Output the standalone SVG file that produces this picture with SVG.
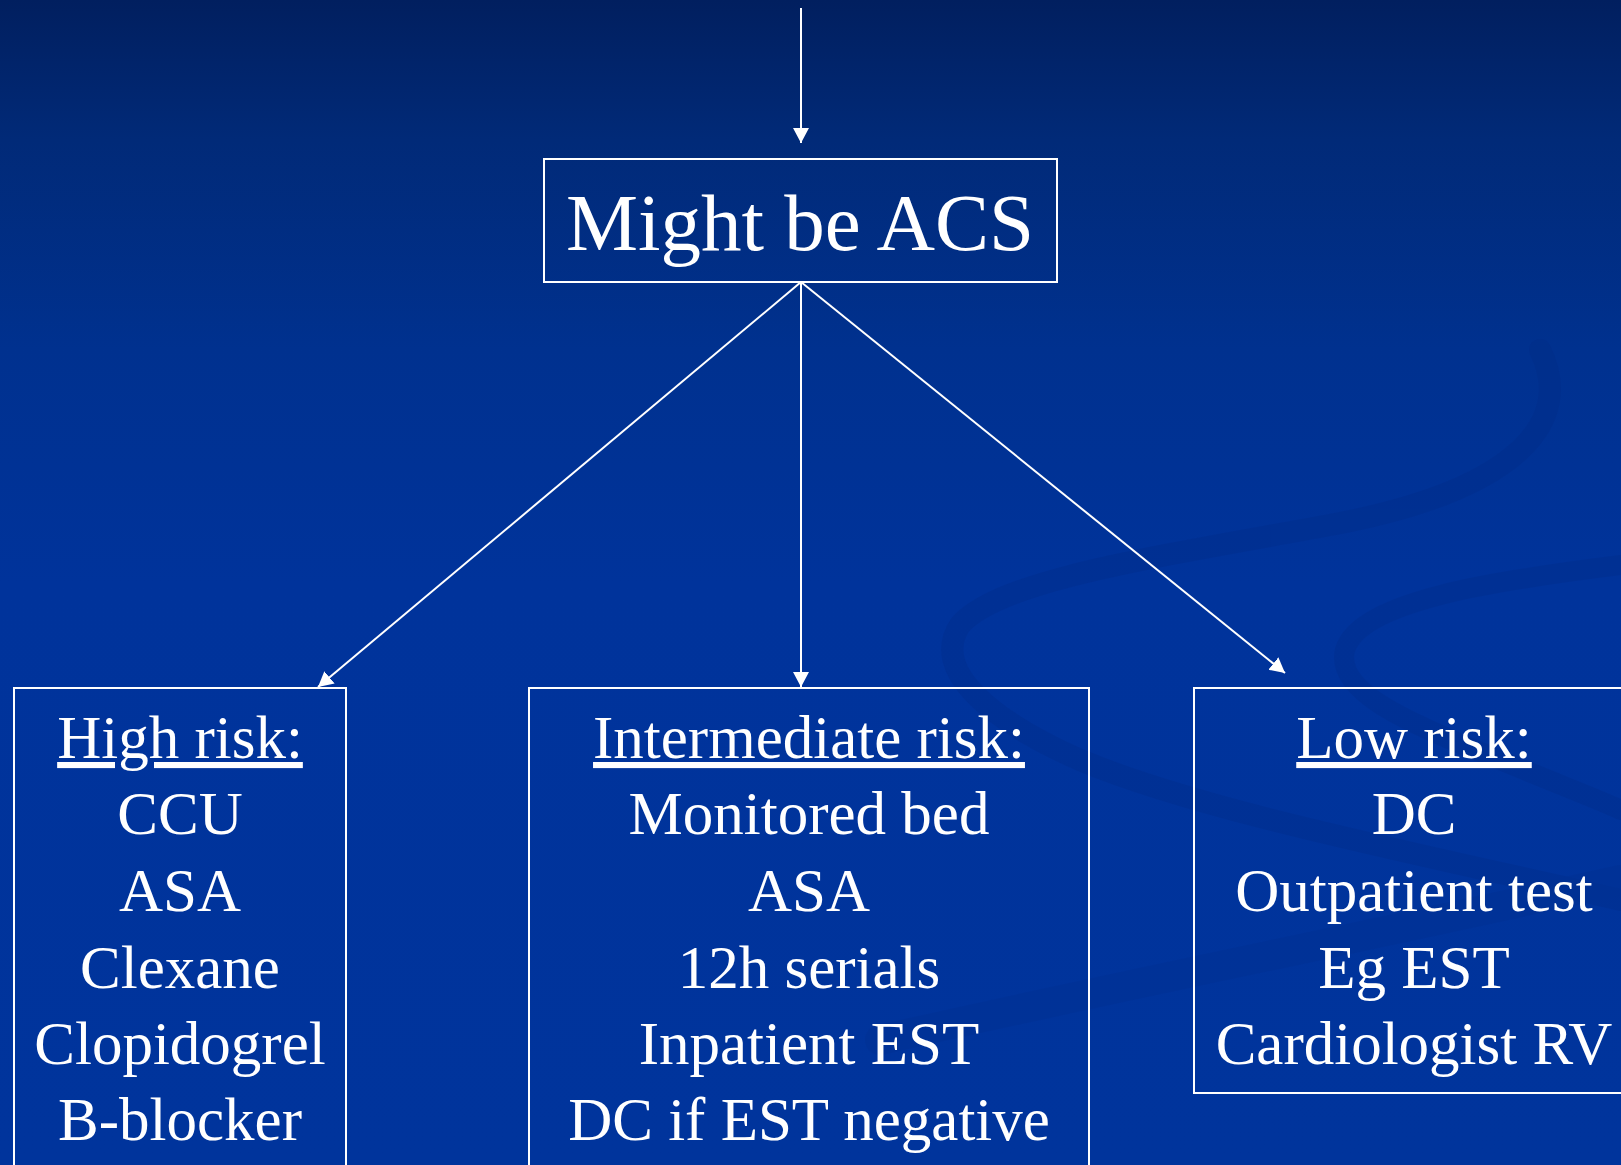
<svg xmlns="http://www.w3.org/2000/svg" width="1621" height="1165" viewBox="0 0 1621 1165">
  <defs>
    <linearGradient id="bg" x1="0" y1="0" x2="0" y2="1">
      <stop offset="0" stop-color="#011f5f"/>
      <stop offset="0.12" stop-color="#012a78"/>
      <stop offset="0.3" stop-color="#00318f"/>
      <stop offset="0.5" stop-color="#00339b"/>
      <stop offset="1" stop-color="#00349c"/>
    </linearGradient>
    <marker id="arrow" markerUnits="userSpaceOnUse" markerWidth="17" markerHeight="17" refX="15" refY="8" orient="auto">
      <path d="M0,0 L15,8 L0,16 z" fill="#ffffff"/>
    </marker>
    <style>
      .box { fill: none; stroke: #ffffff; stroke-width: 2; }
      .conn { stroke: #ffffff; stroke-width: 2; fill: none; marker-end: url(#arrow); }
      .t { font-family: "Liberation Serif", "DejaVu Serif", serif; fill: #ffffff; text-anchor: middle; }
      .title { font-size: 81px; }
      .item { font-size: 61px; }
      .head { text-decoration: underline; }
      .swirl { fill: none; stroke: #002c86; stroke-linecap: round; }
    </style>
  </defs>

  <rect x="0" y="0" width="1621" height="1165" fill="url(#bg)"/>

  <g id="background-swirls" opacity="0.3">
    <path class="swirl" stroke-width="22" d="M1540,350 C1575,420 1520,490 1330,525 C1150,558 1000,580 960,625 C930,670 990,720 1080,760 C1200,810 1400,850 1621,900"/>
    <path class="swirl" stroke-width="20" d="M1621,565 C1500,580 1360,600 1345,650 C1335,690 1400,720 1500,760 C1560,785 1600,800 1621,810"/>
    <path class="swirl" stroke-width="30" opacity="0.6" d="M880,1040 C1100,990 1350,940 1621,880"/>
  </g>

  <g id="connectors">
    <line class="conn" x1="801" y1="8" x2="801" y2="143"/>
    <line class="conn" x1="801" y1="282" x2="318" y2="687"/>
    <line class="conn" x1="801" y1="282" x2="801" y2="687"/>
    <line class="conn" x1="801" y1="282" x2="1285" y2="673"/>
  </g>

  <g id="node-acs">
    <rect class="box" x="544" y="159" width="513" height="123"/>
    <text class="t title" x="800" y="250">Might be ACS</text>
  </g>

  <g id="node-high">
    <rect class="box" x="14" y="688" width="332" height="500"/>
    <text class="t item head" x="180" y="758">High risk:</text>
    <text class="t item" x="180" y="834">CCU</text>
    <text class="t item" x="180" y="911">ASA</text>
    <text class="t item" x="180" y="988">Clexane</text>
    <text class="t item" x="180" y="1064">Clopidogrel</text>
    <text class="t item" x="180" y="1140">B-blocker</text>
  </g>

  <g id="node-intermediate">
    <rect class="box" x="529" y="688" width="560" height="500"/>
    <text class="t item head" x="809" y="758">Intermediate risk:</text>
    <text class="t item" x="809" y="834">Monitored bed</text>
    <text class="t item" x="809" y="911">ASA</text>
    <text class="t item" x="809" y="988">12h serials</text>
    <text class="t item" x="809" y="1064">Inpatient EST</text>
    <text class="t item" x="809" y="1140">DC if EST negative</text>
  </g>

  <g id="node-low">
    <rect class="box" x="1194" y="688" width="460" height="405"/>
    <text class="t item head" x="1414" y="758">Low risk:</text>
    <text class="t item" x="1414" y="834">DC</text>
    <text class="t item" x="1414" y="911">Outpatient test</text>
    <text class="t item" x="1414" y="988">Eg EST</text>
    <text class="t item" x="1414" y="1064">Cardiologist RV</text>
  </g>
</svg>
